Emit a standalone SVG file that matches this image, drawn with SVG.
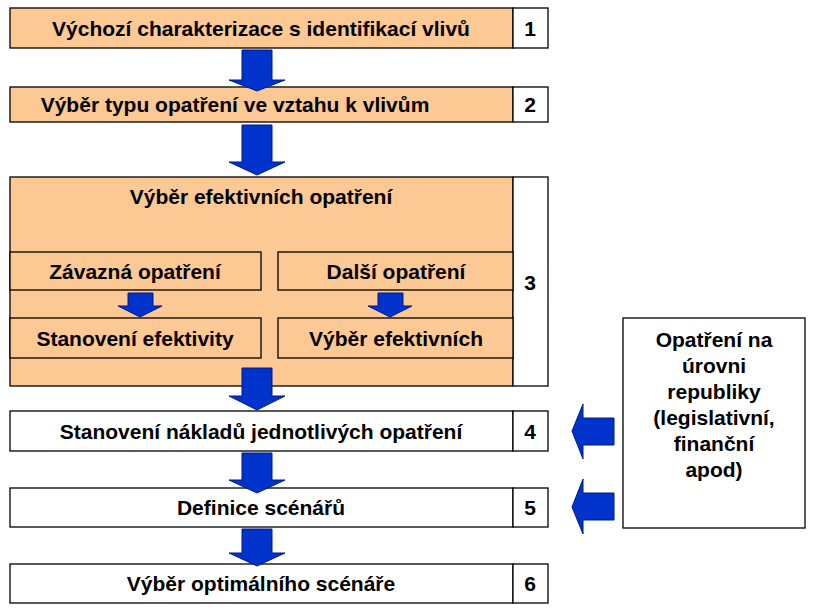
<svg xmlns="http://www.w3.org/2000/svg" width="824" height="613" viewBox="0 0 824 613">
<style>
.o{fill:#fcc893;stroke:#000;stroke-width:1.3}
.w{fill:#fff;stroke:#000;stroke-width:1.3}
.t{font-family:"Liberation Sans",Arial,sans-serif;font-weight:bold;font-size:21px;fill:#000;text-anchor:middle}
.a{fill:#0033cc;stroke:#001a80;stroke-width:1}
</style>
<rect width="824" height="613" fill="#fff"/>
<g id="n1"><rect class="o" x="10" y="8" width="503" height="40"/><rect class="w" x="513" y="8" width="35" height="40"/>
<text class="t" x="261" y="36">Výchozí charakterizace s identifikací vlivů</text><text class="t" x="530" y="36">1</text></g>
<g id="n2"><rect class="o" x="10" y="87" width="503" height="35"/><rect class="w" x="513" y="87" width="35" height="35"/>
<text class="t" x="235" y="112">Výběr typu opatření ve vztahu k vlivům</text><text class="t" x="530" y="112">2</text></g>
<g id="n3"><rect class="o" x="10" y="177" width="503" height="209"/><rect class="w" x="513" y="177" width="35" height="209"/>
<text class="t" x="261" y="204">Výběr efektivních opatření</text><text class="t" x="530" y="290">3</text>
<rect class="o" x="10" y="252" width="251" height="38"/><text class="t" x="135" y="279">Závazná opatření</text>
<rect class="o" x="278" y="252" width="235" height="38"/><text class="t" x="396" y="279">Další opatření</text>
<rect class="o" x="10" y="318" width="251" height="40"/><text class="t" x="135" y="346">Stanovení efektivity</text>
<rect class="o" x="278" y="318" width="235" height="40"/><text class="t" x="396" y="346">Výběr efektivních</text></g>
<g id="n4"><rect class="w" x="10" y="411" width="503" height="40"/><rect class="w" x="513" y="411" width="35" height="40"/>
<text class="t" x="261" y="439">Stanovení nákladů jednotlivých opatření</text><text class="t" x="530" y="439">4</text></g>
<g id="n5"><rect class="w" x="10" y="488" width="503" height="39"/><rect class="w" x="513" y="488" width="35" height="39"/>
<text class="t" x="261" y="515">Definice scénářů</text><text class="t" x="530" y="515">5</text></g>
<g id="n6"><rect class="w" x="10" y="564" width="503" height="39"/><rect class="w" x="513" y="564" width="35" height="39"/>
<text class="t" x="261" y="591">Výběr optimálního scénáře</text><text class="t" x="530" y="591">6</text></g>
<g id="n7"><rect class="w" x="623" y="318" width="182" height="210"/>
<text class="t" x="714" y="347">Opatření na</text><text class="t" x="714" y="373">úrovni</text><text class="t" x="714" y="399">republiky</text><text class="t" x="714" y="425">(legislativní,</text><text class="t" x="714" y="451">finanční</text><text class="t" x="714" y="477">apod)</text></g>
<g id="connectors">
<polygon class="a" points="242,50 272,50 272,80 285,80 257,91 229,80 242,80"/>
<polygon class="a" points="242,125 272,125 272,162 285,162 257,175 229,162 242,162"/>
<polygon class="a" points="242,368 272,368 272,396 285,396 257,410 229,396 242,396"/>
<polygon class="a" points="242,453 272,453 272,480 285,480 257,493 229,480 242,480"/>
<polygon class="a" points="242,529 272,529 272,553 285,553 257,566 229,553 242,553"/>
<polygon class="a" points="128,293 153,293 153,306 162,306 140,317 118,306 128,306"/>
<polygon class="a" points="378,293 403,293 403,306 412,306 390,317 368,306 378,306"/>
<polygon class="a" points="614,418 614,445 583,445 583,459 572,431 583,404 583,418"/>
<polygon class="a" points="614,493 614,520 583,520 583,534 572,507 583,479 583,493"/>
</g>
</svg>
